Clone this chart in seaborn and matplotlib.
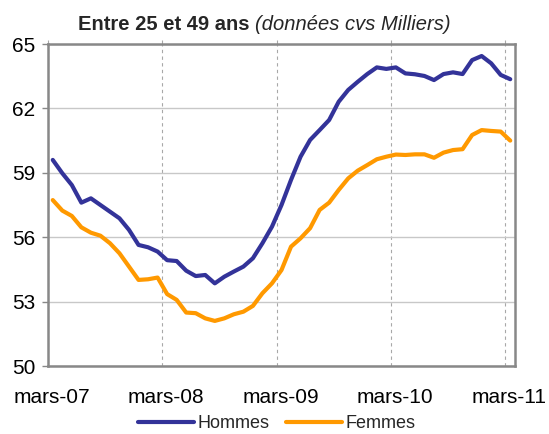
import numpy as np
import pandas as pd
import matplotlib
matplotlib.use("Agg")
import matplotlib.pyplot as plt
import matplotlib.transforms as mtransforms
import seaborn as sns

# --- data (monthly, mars-07 .. mars-11) ---
tick_labels = ["mars-07", "mars-08", "mars-09", "mars-10", "mars-11"]
hommes = [59.60, 58.98, 58.43, 57.61, 57.81, 57.50, 57.19, 56.88, 56.34, 55.64,
          55.53, 55.33, 54.93, 54.89, 54.44, 54.19, 54.24, 53.85, 54.16, 54.40,
          54.63, 55.02, 55.72, 56.49, 57.50, 58.67, 59.75, 60.53, 60.99, 61.46,
          62.31, 62.86, 63.24, 63.60, 63.91, 63.84, 63.91, 63.63, 63.59, 63.51,
          63.32, 63.60, 63.68, 63.60, 64.25, 64.44, 64.10, 63.56, 63.36]
femmes = [57.73, 57.24, 56.99, 56.46, 56.21, 56.07, 55.72, 55.25, 54.63, 54.01,
          54.04, 54.12, 53.35, 53.08, 52.49, 52.46, 52.22, 52.10, 52.22, 52.41,
          52.53, 52.80, 53.39, 53.85, 54.47, 55.56, 55.95, 56.42, 57.27, 57.61,
          58.20, 58.74, 59.10, 59.36, 59.63, 59.75, 59.85, 59.83, 59.86, 59.86,
          59.70, 59.94, 60.06, 60.10, 60.76, 60.99, 60.95, 60.92, 60.50]
series_names = ["Hommes", "Femmes"]
colors = ["#333399", "#FF9900"]

n = len(hommes)
df = pd.DataFrame({
    "idx": list(range(n)) * 2,
    "value": hommes + femmes,
    "serie": [series_names[0]] * n + [series_names[1]] * n,
})

sns.set_style("white")
plt.rcParams["font.family"] = ["Liberation Sans", "DejaVu Sans"]

W, H = 549, 434
fig = plt.figure(figsize=(W / 100, H / 100), dpi=100)
ax = fig.add_axes([48 / W, (H - 366) / H, (515 - 48) / W, (366 - 44) / H])

sns.lineplot(data=df, x="idx", y="value", hue="serie", palette=colors,
             linewidth=3.0, ax=ax, legend=True)
for ln in ax.get_lines():
    ln.set_solid_capstyle("round")
    ln.set_solid_joinstyle("round")

ax.set_xlim(-0.5, n - 0.5)
ax.set_ylim(50, 65)
ax.set_yticks([50, 53, 56, 59, 62, 65])
xt = [-0.5 + 12 * k for k in range(len(tick_labels))]
ax.set_xticks(xt)
ax.set_xticklabels(tick_labels)
ax.set_xlabel("")
ax.set_ylabel("")

# grids
ax.set_axisbelow(True)
ax.yaxis.grid(True, color="#c8c8c8", linewidth=1.0, linestyle="-")
ax.xaxis.grid(True, color="#a8a8a8", linewidth=0.8, linestyle=(0, (3, 3)))

for s in ax.spines.values():
    s.set_visible(True)
    s.set_color("#888888")
    s.set_linewidth(1.8)

ax.tick_params(axis="y", which="major", left=True, length=4, width=1,
               color="#888888", pad=5, labelsize=15, labelcolor="black")
ax.tick_params(axis="x", which="major", bottom=False, top=True, labeltop=False,
               labelbottom=True, length=3, width=0.8, color="#a8a8a8",
               pad=13, labelsize=15, labelcolor="black")
offset = mtransforms.ScaledTranslation(4 / 100, 0, fig.dpi_scale_trans)
for lbl in ax.get_xticklabels():
    lbl.set_transform(lbl.get_transform() + offset)

# title in two styles
fig.text(250 / W, (H - 30) / H, "Entre 25 et 49 ans", ha="right", va="baseline",
         fontsize=14.5, fontweight="bold")
fig.text(255 / W, (H - 30) / H, "(données cvs Milliers)", ha="left",
         va="baseline", fontsize=14.5, fontstyle="italic")

handles, labels = ax.get_legend_handles_labels()
ax.get_legend().remove()
fig.legend(handles, labels, loc="center", bbox_to_anchor=(277 / W, (H - 424) / H),
           ncol=2, frameon=False, fontsize=13, handlelength=3.1,
           handletextpad=0.2, columnspacing=0.9, borderpad=0.2)

fig.savefig("out.png", dpi=100)
